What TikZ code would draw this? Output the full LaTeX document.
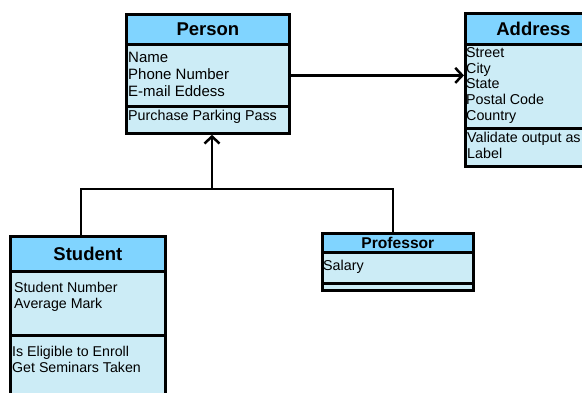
\documentclass[tikz,border=0pt]{standalone}
\usepackage{fontspec}
\setmainfont{Liberation Sans}
\usepackage{xcolor}
\usetikzlibrary{arrows.meta}
\definecolor{headblue}{RGB}{128,212,255}
\definecolor{bodyblue}{RGB}{204,236,246}
\tikzset{
  hdr/.style={draw,fill=headblue,line width=2.8pt,anchor=north west,inner sep=0pt,font=\fontsize{18.5}{22}\selectfont\bfseries},
  compart/.style={draw,fill=bodyblue,line width=2.8pt,anchor=north west,inner sep=0pt},
  member/.style={anchor=north west,inner sep=0pt,align=left},
  conn/.style={line width=2.5pt},
  opentip/.style={-{Straight Barb[length=7pt,width=15pt]}}
}

\begin{document}
\begin{tikzpicture}[x=1pt,y=-1pt]
\useasboundingbox (0,0) rectangle (582,393);
\draw (125,13) node[hdr,minimum width=163pt,minimum height=30pt](personhead) {Person};
\draw (125,43) node[compart,minimum width=163pt,minimum height=62pt](personattr) {};
\draw (125,105) node[compart,minimum width=163pt,minimum height=27pt](personops) {};
\draw (128,52) node[member,font=\fontsize{15}{17}\selectfont](personattrtext) {Name\\Phone Number\\E-mail Eddess};
\draw (128,110) node[member,font=\fontsize{14.3}{17}\selectfont](personopstext) {Purchase Parking Pass};
\draw (464,12) node[hdr,minimum width=136pt,minimum height=31pt](addrhead) {Address};
\draw (464,43) node[compart,minimum width=136pt,minimum height=84pt](addrattr) {};
\draw (464,127) node[compart,minimum width=136pt,minimum height=38pt](addrops) {};
\draw (466,47) node[member,font=\fontsize{14.3}{15.9}\selectfont](addrattrtext) {Street\\City\\State\\Postal Code\\Country};
\draw (467,132) node[member,font=\fontsize{14.3}{16}\selectfont](addropstext) {Validate output as\\Label};
\draw (9,235) node[hdr,minimum width=155pt,minimum height=35pt](studenthead) {Student};
\draw (9,270) node[compart,minimum width=155pt,minimum height=64pt](studentattr) {};
\draw (9,334) node[compart,minimum width=155pt,minimum height=86pt](studentops) {};
\draw (14,282) node[member,font=\fontsize{14.2}{16.3}\selectfont](studentattrtext) {Student Number\\Average Mark};
\draw (12,346) node[member,font=\fontsize{14.2}{16}\selectfont](studentopstext) {Is Eligible to Enroll\\Get Seminars Taken};
\draw (321,232) node[hdr,minimum width=151pt,minimum height=19pt,font=\fontsize{15.6}{18}\selectfont\bfseries](profhead) {Professor};
\draw (321,251) node[compart,minimum width=151pt,minimum height=31pt](profattr) {};
\draw (321,282) node[compart,minimum width=151pt,minimum height=7pt](profops) {};
\draw (323,260) node[member,font=\fontsize{14.3}{16}\selectfont](profattrtext) {Salary};
\coordinate (stuleg) at (81,189);
\coordinate (profleg) at (393,189);
\coordinate (join) at (212,189);
\draw[conn] (stuleg |- studenthead.north) -- (stuleg) -- (profleg) -- (profleg |- profhead.north);
\draw[conn,opentip] (join) -- (join |- personops.south);
\draw[conn,opentip] (personattr.east) -- (personattr.east -| addrattr.west);
\end{tikzpicture}
\end{document}
